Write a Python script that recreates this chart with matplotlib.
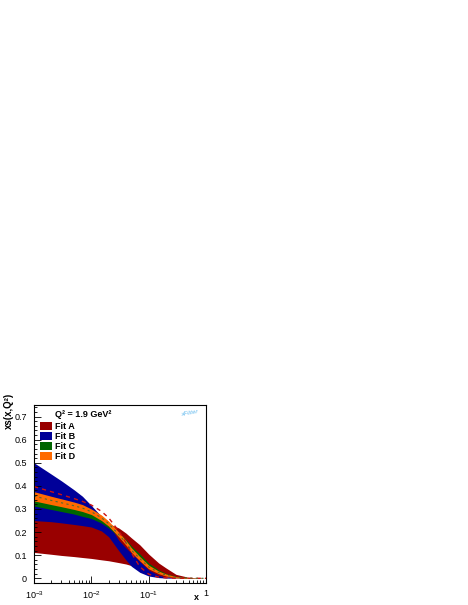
import matplotlib
matplotlib.use("Agg")
import matplotlib.pyplot as plt
from matplotlib.patches import Patch
from matplotlib.ticker import LogLocator, MultipleLocator, NullFormatter, FuncFormatter
import numpy as np

plt.rcParams['font.family'] = ['Liberation Sans', 'DejaVu Sans']
plt.rcParams['mathtext.fontset'] = 'custom'
plt.rcParams['mathtext.rm'] = 'Liberation Sans'
plt.rcParams['mathtext.it'] = 'Liberation Sans:italic'
plt.rcParams['mathtext.bf'] = 'Liberation Sans:bold'

# ---- data ----
x = [0.001, 0.002, 0.003, 0.005, 0.007, 0.01, 0.015, 0.02, 0.03, 0.04,
     0.05, 0.07, 0.1, 0.15, 0.2, 0.3, 0.5, 0.7, 1.0]

fitA_up = [0.253, 0.252, 0.251, 0.250, 0.249, 0.247, 0.243, 0.237, 0.218, 0.196,
           0.175, 0.145, 0.105, 0.066, 0.045, 0.017, 0.004, 0.001, 0.0]
fitA_lo = [0.112, 0.104, 0.099, 0.094, 0.090, 0.086, 0.080, 0.076, 0.068, 0.062,
           0.055, 0.040, 0.022, 0.010, 0.005, 0.002, 0.0, 0.0, 0.0]
fitA_c = [0.397, 0.375, 0.362, 0.345, 0.333, 0.317, 0.290, 0.262, 0.205, 0.155,
          0.110, 0.050, 0.018, 0.005, 0.002, 0.0, 0.0, 0.0, 0.0]

fitB_up = [0.500, 0.451, 0.422, 0.383, 0.355, 0.315, 0.268, 0.235, 0.165, 0.132,
           0.108, 0.073, 0.036, 0.013, 0.005, 0.001, 0.0, 0.0, 0.0]
fitB_lo = [0.250, 0.245, 0.240, 0.233, 0.228, 0.222, 0.205, 0.180, 0.120, 0.080,
           0.052, 0.026, 0.010, 0.003, 0.001, 0.0, 0.0, 0.0, 0.0]

fitC_up = [0.345, 0.326, 0.315, 0.302, 0.292, 0.283, 0.261, 0.238, 0.199, 0.168,
           0.140, 0.106, 0.066, 0.036, 0.021, 0.008, 0.002, 0.0005, 0.0]
fitC_lo = [0.313, 0.298, 0.289, 0.278, 0.268, 0.259, 0.239, 0.218, 0.181, 0.150,
           0.124, 0.090, 0.052, 0.025, 0.013, 0.004, 0.0005, 0.0, 0.0]

fitD_up = [0.375, 0.355, 0.344, 0.330, 0.319, 0.300, 0.274, 0.248, 0.200, 0.164,
           0.132, 0.094, 0.057, 0.031, 0.019, 0.007, 0.002, 0.0005, 0.0]
fitD_lo = [0.335, 0.319, 0.310, 0.298, 0.289, 0.276, 0.250, 0.226, 0.180, 0.144,
           0.112, 0.076, 0.041, 0.020, 0.010, 0.002, 0.0, 0.0, 0.0]
fitD_c = [0.356, 0.337, 0.327, 0.314, 0.304, 0.288, 0.262, 0.237, 0.190, 0.154,
          0.122, 0.085, 0.049, 0.025, 0.014, 0.004, 0.001, 0.0002, 0.0]

labels = ['Fit A', 'Fit B', 'Fit C', 'Fit D']
colors = ['#990000', '#000099', '#006600', '#ff6a00']
header = 'Q² = 1.9 GeV²'

# ---- figure ----
fig = plt.figure(figsize=(4.68, 6.05), dpi=100)
ax = fig.add_axes([34/468, 1-583.3/605, 172/468, 178.3/605])

ax.fill_between(x, fitA_lo, fitA_up, color=colors[0], lw=0)
ax.fill_between(x, fitB_lo, fitB_up, color=colors[1], lw=0)
ax.plot(x, fitA_c, color='#cc1111', lw=1.0, ls=(0, (3, 3)))
ax.fill_between(x, fitC_lo, fitC_up, color=colors[2], lw=0)
ax.fill_between(x, fitD_lo, fitD_up, color=colors[3], lw=0)
ax.plot(x, fitD_c, color='#556b2f', lw=0.8, ls=(0, (2, 3)))

ax.set_xscale('log')
ax.set_xlim(1e-3, 1)
ax.set_ylim(-0.0216, 0.75)
ax.yaxis.set_major_locator(MultipleLocator(0.1))
ax.yaxis.set_minor_locator(MultipleLocator(0.02))
ax.xaxis.set_major_locator(LogLocator(base=10, numticks=10))
ax.xaxis.set_minor_locator(LogLocator(base=10, subs=np.arange(2, 10), numticks=20))
ax.xaxis.set_minor_formatter(NullFormatter())


def xfmt(v, p):
    e = int(round(np.log10(v)))
    return '1' if e == 0 else r'$10^{%d}$' % e


ax.xaxis.set_major_formatter(FuncFormatter(xfmt))
ax.yaxis.set_major_formatter(FuncFormatter(lambda v, p: '0' if abs(v) < 1e-9 else f'{v:.1f}'))

ax.tick_params(which='both', direction='in', top=False, right=False, labelsize=6.5, width=0.6)
ax.tick_params(which='major', length=5)
ax.tick_params(axis='y', which='major', pad=5)
ax.tick_params(axis='x', which='major', pad=4)
ax.tick_params(which='minor', length=2.5)
for s in ax.spines.values():
    s.set_linewidth(0.8)

handles = [Patch(facecolor=c, edgecolor='none') for c in colors]
leg = ax.legend(handles, labels, loc='upper left', bbox_to_anchor=(0.035, 0.905),
                frameon=False, prop={'weight': 'bold', 'size': 6.5},
                handlelength=1.35, handleheight=0.9, handletextpad=0.35,
                labelspacing=0.12, borderpad=0, borderaxespad=0)

fig.text(55/468, 1-414.5/605, header, fontsize=6.5, fontweight='bold', va='center', ha='left')
fig.text(8.5/468, 1-393/605, 'xs(x,Q²)', fontsize=7, fontweight='bold', rotation=90,
         va='top', ha='center')
fig.text(196/468, 1-598/605, 'x', fontsize=6.5, fontweight='bold', va='center', ha='center')

# logo text
fig.text(190/468, 1-413/605, 'xFitter', fontsize=4.5, style='italic', color='#66bbee',
         rotation=10, va='center', ha='center')

fig.savefig('out.png', dpi=100)
